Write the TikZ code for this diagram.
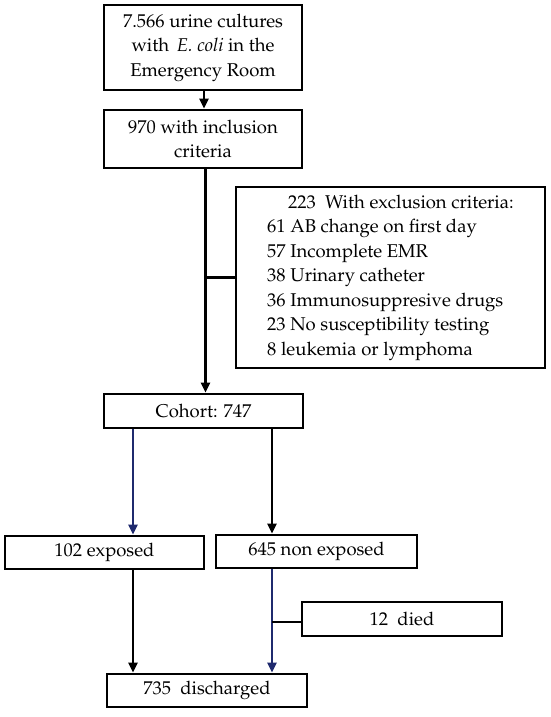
\documentclass[tikz,border=0pt]{standalone}
\usepackage[T1]{fontenc}
\renewcommand{\rmdefault}{ppl}
\usetikzlibrary{arrows.meta}
\definecolor{navy}{HTML}{1F2A6E}
\begin{document}
\begin{tikzpicture}[x=1pt,y=-1pt,
  box/.style={draw=black,line width=2.9pt,rectangle,inner sep=0pt,align=center,
    font=\fontsize{18.5}{24.5}\selectfont},
  conn/.style={line width=2.9pt},
  arr/.style={conn,-{Triangle[length=10pt,width=9pt]}},
  blue/.style={draw=navy}]
\useasboundingbox (0,0) rectangle (550,717);
\fill[white] (0,0) rectangle (550,717);
\node[box,minimum width=198pt,minimum height=85pt] (b1) at (203,47.5)
  {7.566 urine cultures\\with \,\textit{E. coli} in the\\Emergency Room};
\node[box,minimum width=198pt,minimum height=58pt] (b2) at (203,139)
  {970 with inclusion\\criteria};
\node[box,minimum width=309pt,minimum height=181pt,align=left] (ex) at (390.5,277.5)
  {\hspace*{21pt}223\ \ With exclusion criteria:\\61 AB change on first day\\57 Incomplete EMR\\38 Urinary catheter\\36 Immunosuppresive drugs\\23 No susceptibility testing\\8 leukemia or lymphoma};
\node[box,minimum width=199pt,minimum height=34pt] (co) at (203.5,411) {Cohort: 747};
\node[box,minimum width=199pt,minimum height=33pt] (e) at (104.5,552.5) {102 exposed};
\node[box,minimum width=201pt,minimum height=33pt] (ne) at (316.5,551.5) {645 non exposed};
\node[box,minimum width=200pt,minimum height=34pt] (d) at (402,619) {12\ \ died};
\node[box,minimum width=200pt,minimum height=33pt] (dc) at (207,690.5) {735\ \ discharged};
\coordinate (x1) at (204,0);
\coordinate (x2) at (205.5,0);
\coordinate (xl) at (133,0);
\coordinate (xr) at (272,0);
\coordinate (j1) at (205.5,277.5);
\coordinate (j2) at (272,622);
\draw[arr] (x1 |- b1.south) -- (x1 |- b2.north);
\draw[arr] (x2 |- b2.south) -- (x2 |- co.north);
\draw[conn] (j1) -- (ex.west);
\draw[arr,blue] (xl |- co.south) -- (xl |- e.north);
\draw[arr] (xr |- co.south) -- (xr |- ne.north);
\draw[arr] (xl |- e.south) -- (xl |- dc.north);
\draw[arr,blue] (xr |- ne.south) -- (xr |- dc.north);
\draw[conn] (j2) -- (j2 -| d.west);
\end{tikzpicture}
\end{document}
